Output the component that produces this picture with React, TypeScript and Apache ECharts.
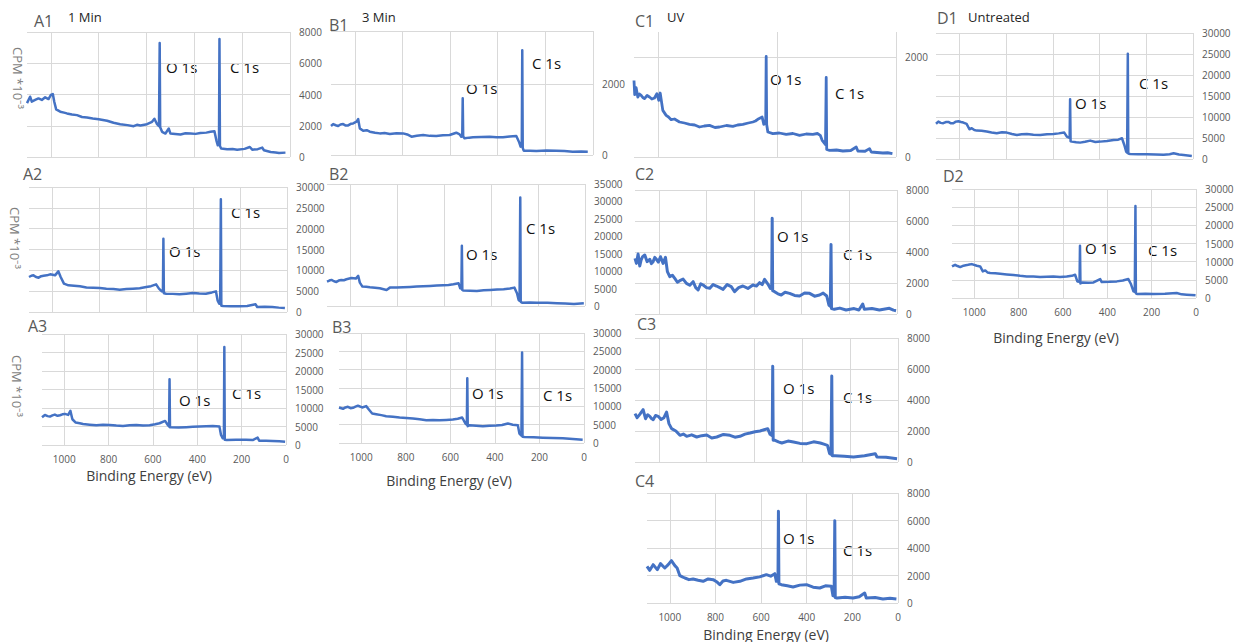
import React, { useEffect, useRef } from "react";
import * as echarts from "echarts";

// XPS survey spectra: [binding energy (eV), counts]
const spectrumA1: [number, number][] = [
  [1100, 3450], [1087, 3860], [1080, 3540], [1066, 3650], [1052, 3750], [1038, 3650], [1024, 3820],
  [1010, 3710], [1000, 3970], [992, 4030], [986, 3540], [978, 3050], [961, 2900], [945, 2840], [933, 2790],
  [912, 2720], [891, 2680], [870, 2560], [849, 2530], [825, 2470], [800, 2420], [765, 2320], [738, 2190],
  [710, 2100], [680, 2040], [654, 1970], [640, 2060], [626, 2020], [598, 2100], [577, 2250], [567, 2450],
  [556, 2100], [548, 1970], [547, 2000], [545, 7290], [543, 1900], [535, 1610], [521, 1500], [507, 1820],
  [500, 1500], [480, 1470], [458, 1440], [437, 1520], [416, 1500], [395, 1480], [375, 1540], [350, 1560],
  [333, 1610], [316, 1650], [308, 1070], [302, 750], [297, 900], [295, 7550], [293, 700], [288, 540],
  [263, 490], [240, 510], [221, 470], [190, 520], [168, 640], [158, 470], [135, 500], [116, 600],
  [109, 430], [81, 320], [60, 290], [46, 260], [19, 280],
];
const spectrumB1: [number, number][] = [
  [1100, 820], [1091, 873], [1080, 840], [1070, 817], [1060, 860], [1049, 873], [1038, 830], [1028, 836],
  [1017, 880], [1007, 892], [993, 939], [986, 1014], [979, 751], [965, 685], [950, 700], [937, 657],
  [915, 630], [895, 610], [875, 620], [853, 592], [825, 615], [797, 610], [780, 580], [762, 516],
  [740, 545], [713, 563], [685, 540], [658, 535], [630, 555], [602, 563], [574, 629], [560, 582],
  [553, 516], [549, 520], [547, 1600], [545, 520], [539, 470], [520, 490], [504, 498], [470, 505],
  [434, 516], [405, 500], [378, 498], [350, 520], [322, 535], [311, 376], [304, 235], [299, 300],
  [297, 2958], [295, 200], [291, 122], [265, 118], [238, 113], [195, 125], [154, 122], [120, 110],
  [85, 94], [50, 100], [22, 94],
];
const spectrumC1: [number, number][] = [
  [1100, 1530], [1097, 1247], [1091, 1387], [1084, 1200], [1077, 1260], [1070, 1233], [1063, 1190],
  [1056, 1167], [1045, 1230], [1035, 1200], [1025, 1160], [1014, 1180], [1004, 1267], [996, 1133],
  [990, 1280], [979, 933], [965, 833], [955, 800], [944, 747], [930, 760], [909, 700], [888, 680],
  [867, 653], [845, 640], [825, 600], [805, 620], [783, 633], [760, 590], [741, 600], [712, 630],
  [685, 613], [665, 640], [643, 653], [620, 680], [601, 700], [590, 720], [576, 767], [562, 800],
  [555, 653], [547, 700], [545, 2010], [543, 650], [538, 500], [517, 467], [490, 480], [461, 453],
  [433, 470], [405, 433], [377, 460], [349, 453], [330, 470], [318, 433], [310, 333], [296, 250],
  [293, 1590], [291, 150], [279, 133], [250, 140], [223, 120], [190, 130], [167, 200], [160, 120],
  [130, 115], [111, 167], [104, 100], [80, 90], [55, 80], [35, 85], [15, 67],
];
const spectrumD1: [number, number][] = [
  [1100, 8400], [1090, 8913], [1080, 8600], [1069, 8515], [1058, 8800], [1047, 8833], [1036, 8500],
  [1026, 8515], [1015, 8900], [1004, 8992], [993, 8800], [983, 8674], [969, 8356], [957, 7083],
  [947, 7321], [936, 6900], [926, 6764], [905, 6700], [883, 6526], [862, 6300], [840, 6128],
  [818, 6350], [797, 6287], [775, 5950], [754, 5730], [733, 5900], [711, 5968], [683, 5800],
  [654, 5730], [625, 5900], [597, 5968], [575, 6100], [551, 6287], [540, 5332], [528, 5000],
  [526, 14250], [524, 4200], [519, 4138], [500, 4000], [483, 3899], [462, 4100], [440, 4377],
  [418, 4050], [397, 4138], [368, 4300], [340, 4536], [320, 4600], [304, 4934], [294, 3342],
  [286, 1751], [282, 1500], [279, 25070], [277, 1300], [269, 1194], [235, 1150], [197, 1114],
  [160, 1100], [126, 1035], [100, 1150], [83, 1353], [60, 1050], [40, 955], [5, 716],
];
const spectrumA2: [number, number][] = [
  [1100, 8400], [1090, 8700], [1081, 8800], [1070, 8400], [1059, 8240], [1048, 8600], [1038, 8720],
  [1024, 8800], [1010, 9040], [989, 8800], [975, 9760], [965, 8400], [951, 6800], [932, 6400],
  [908, 6300], [883, 6160], [855, 5900], [826, 5840], [798, 5750], [770, 5600], [740, 5500],
  [713, 5360], [685, 5500], [657, 5600], [628, 5700], [600, 6000], [580, 6200], [558, 6640],
  [546, 5600], [534, 4960], [529, 4900], [527, 17600], [525, 4500], [515, 4400], [487, 4350],
  [459, 4240], [430, 4400], [402, 4560], [374, 4450], [346, 4400], [320, 4700], [303, 4960],
  [296, 2800], [289, 2000], [285, 2000], [282, 27040], [280, 1500], [272, 1440], [240, 1400],
  [204, 1360], [170, 1450], [134, 1840], [127, 1200], [95, 1250], [63, 1200], [35, 1050], [9, 960],
];
const spectrumB2: [number, number][] = [
  [1100, 7000], [1090, 7300], [1081, 7480], [1070, 7100], [1060, 6904], [1050, 7300], [1039, 7480],
  [1028, 7400], [1017, 7671], [996, 8055], [977, 7863], [967, 8630], [960, 6712], [949, 5562],
  [933, 5500], [917, 5370], [895, 5250], [875, 5082], [846, 4603], [832, 5274], [803, 5300],
  [775, 5370], [746, 5450], [718, 5562], [690, 5650], [661, 5753], [632, 5850], [604, 5945],
  [582, 6050], [561, 6233], [539, 6520], [532, 5082], [527, 5000], [525, 17260], [523, 4600],
  [518, 4411], [490, 4350], [461, 4315], [432, 4500], [404, 4603], [375, 4700], [347, 4795],
  [320, 5000], [301, 5274], [290, 3644], [283, 1726], [279, 1500], [276, 31160], [274, 1200],
  [268, 959], [236, 1000], [204, 959], [160, 900], [119, 767], [85, 700], [47, 575], [5, 767],
];
const spectrumC2: [number, number][] = [
  [1100, 3590], [1094, 3268], [1087, 3870], [1080, 3096], [1074, 3500], [1068, 3698], [1059, 3806],
  [1049, 3376], [1038, 3526], [1031, 3250], [1024, 3376], [1017, 3650], [1010, 3526], [1002, 3350],
  [993, 3698], [982, 3268], [972, 3655], [964, 2731], [954, 2408], [943, 2500], [933, 2300],
  [922, 2050], [912, 2150], [898, 2250], [884, 1978], [870, 1850], [856, 2086], [845, 1700],
  [835, 1548], [824, 1950], [814, 1870], [800, 1700], [786, 1656], [772, 1900], [758, 1806],
  [744, 1700], [730, 1591], [713, 1900], [696, 1763], [682, 1440], [665, 1700], [647, 1806],
  [626, 1650], [605, 1870], [590, 1800], [577, 2021], [566, 1900], [556, 2236], [542, 1935],
  [532, 1656], [526, 1800], [524, 6170], [522, 1500], [514, 1440], [500, 1300], [486, 1226],
  [470, 1400], [451, 1333], [430, 1200], [409, 1161], [388, 1350], [367, 1333], [346, 1150],
  [325, 1226], [310, 1350], [295, 1161], [286, 580], [280, 500], [277, 4490], [275, 350],
  [263, 301], [240, 380], [214, 258], [180, 350], [160, 260], [144, 645], [137, 301], [105, 350],
  [74, 258], [50, 320], [32, 366], [15, 250], [4, 215],
];
const spectrumD2: [number, number][] = [
  [1100, 8700], [1086, 9146], [1075, 8800], [1063, 8506], [1048, 8900], [1033, 9055], [1022, 9200],
  [1011, 9329], [988, 8872], [973, 8689], [961, 7317], [950, 7591], [939, 7000], [928, 6860],
  [905, 6800], [883, 6677], [853, 6500], [823, 6311], [793, 6100], [763, 5945], [733, 5900],
  [703, 5762], [673, 5850], [643, 5945], [613, 5800], [583, 5945], [560, 6100], [545, 6402],
  [535, 4573], [525, 4500], [523, 14360], [521, 4000], [511, 4299], [486, 4200], [462, 4299],
  [432, 5213], [425, 4390], [390, 4450], [357, 4573], [330, 4800], [305, 5213], [294, 3933],
  [282, 1829], [276, 1700], [273, 25330], [271, 1300], [264, 1098], [228, 1150], [192, 1098],
  [140, 1150], [87, 1372], [65, 1000], [42, 915], [2, 730],
];
const spectrumA3: [number, number][] = [
  [1100, 7500], [1087, 8132], [1075, 7800], [1064, 7681], [1053, 8000], [1042, 8223], [1030, 7900],
  [1019, 8042], [1008, 8300], [997, 8403], [982, 8132], [972, 9217], [963, 6958], [948, 6054],
  [930, 5900], [915, 5693], [885, 5500], [855, 5331], [825, 5450], [795, 5422], [765, 5250],
  [735, 5151], [705, 5350], [675, 5422], [645, 5250], [615, 5331], [590, 5600], [570, 5873],
  [545, 6506], [533, 5422], [527, 5000], [525, 17800], [523, 4800], [518, 4789], [484, 4700],
  [450, 4789], [420, 4900], [390, 4970], [360, 5050], [330, 5151], [300, 4970], [293, 2711],
  [285, 1807], [280, 1800], [278, 26480], [276, 1400], [267, 1355], [225, 1400], [181, 1446],
  [150, 1350], [128, 1988], [121, 1175], [90, 1150], [61, 1084], [30, 1000], [4, 904],
];
const spectrumB3: [number, number][] = [
  [1100, 9695], [1082, 9329], [1071, 9700], [1060, 9878], [1048, 9500], [1037, 9603], [1026, 9900],
  [1015, 10152], [996, 9695], [978, 10061], [966, 9146], [951, 8048], [933, 7866], [910, 7600],
  [888, 7317], [858, 7150], [828, 6951], [798, 6800], [768, 6677], [738, 6450], [708, 6219],
  [678, 6300], [649, 6219], [619, 6300], [589, 6402], [567, 6600], [547, 6951], [532, 5305],
  [526, 5000], [524, 17650], [522, 4600], [514, 4848], [484, 4700], [454, 4573], [424, 4700],
  [394, 4756], [368, 4900], [342, 5305], [320, 5000], [297, 4848], [290, 2561], [281, 2000],
  [278, 24690], [276, 1700], [267, 1646], [226, 1550], [185, 1463], [140, 1380], [95, 1280],
  [50, 1100], [6, 915],
];
const spectrumC3: [number, number][] = [
  [1100, 3120], [1091, 2860], [1080, 3075], [1066, 3376], [1056, 2795], [1047, 3050], [1038, 2946],
  [1031, 2800], [1024, 2731], [1014, 3000], [1003, 2946], [991, 2750], [979, 2860], [968, 3225],
  [958, 2473], [947, 2150], [929, 2000], [912, 1720], [898, 1800], [884, 1656], [863, 1750],
  [842, 1613], [821, 1700], [800, 1742], [779, 1550], [758, 1613], [730, 1780], [703, 1720],
  [682, 1600], [661, 1656], [640, 1800], [619, 1871], [598, 1950], [577, 2000], [560, 2080],
  [545, 2150], [535, 1785], [526, 1700], [524, 6170], [522, 1400], [514, 1398], [500, 1300],
  [486, 1226], [460, 1350], [437, 1290], [410, 1200], [381, 1183], [353, 1300], [325, 1226],
  [310, 1150], [295, 1075], [286, 538], [280, 500], [277, 5550], [275, 400], [263, 409],
  [225, 370], [186, 323], [140, 400], [95, 538], [88, 323], [50, 300], [4, 215],
];
const spectrumC4: [number, number][] = [
  [1100, 2670], [1088, 2376], [1073, 2788], [1055, 2424], [1041, 2860], [1022, 2545], [1007, 2788],
  [993, 3079], [978, 2715], [968, 2545], [956, 1988], [945, 1900], [934, 1818], [916, 1700],
  [898, 1745], [876, 1650], [854, 1576], [832, 1750], [810, 1697], [795, 1550], [781, 1333],
  [767, 1600], [752, 1648], [722, 1500], [693, 1576], [664, 1750], [635, 1818], [606, 1900],
  [577, 2061], [558, 1950], [540, 2133], [533, 1576], [526, 1600], [524, 6670], [522, 1400],
  [511, 1333], [485, 1250], [460, 1164], [430, 1300], [401, 1333], [372, 1150], [343, 1091],
  [318, 1250], [292, 1212], [285, 533], [280, 500], [277, 5990], [275, 400], [267, 364],
  [232, 420], [197, 364], [170, 450], [146, 727], [139, 364], [100, 400], [66, 291], [35, 340],
  [7, 291],
];

// Panel letters, treatment captions and peak names
const panelNames = ["A1", "B1", "C1", "D1", "A2", "B2", "C2", "D2", "A3", "B3", "C3", "C4"];
const treatments = ["1 Min", "3 Min", "UV", "Untreated"];
const peakNames = ["O 1s", "C 1s"];
const energyTitle = "Binding Energy (eV)";
const countsTitle = "CPM *10⁻³";

const BLUE = "#4472c4";
const GRID = "#d9d9d9";
const AXIS_TEXT = "#595959";
const FONT = "'Open Sans', 'Noto Sans', sans-serif";

type Panel = {
  name: string;
  data: [number, number][];
  box: [number, number, number, number]; // left, top, right, bottom
  yMax: number;
  yStep: number;
  xStep: number;
  xLabels: boolean;
  lineWidth: number;
  hideTopLine?: boolean;
  onlyEdgeLines?: boolean;
  title: [number, number];
  oLabel: [number, number];
  cLabel: [number, number];
};

const panels: Panel[] = [
  { name: panelNames[0], data: spectrumA1, box: [27, 32, 290, 157], yMax: 8000, yStep: 2000, xStep: 200, xLabels: false, lineWidth: 2.5, title: [34, 21], oLabel: [166, 67], cLabel: [230, 67] },
  { name: panelNames[1], data: spectrumB1, box: [331, 31, 593, 155], yMax: 3500, yStep: 2000, xStep: 200, xLabels: false, lineWidth: 2.5, title: [329, 25], oLabel: [466, 88], cLabel: [532, 63] },
  { name: panelNames[2], data: spectrumC1, box: [634, 32, 896, 157], yMax: 2500, yStep: 2000, xStep: 500, xLabels: false, lineWidth: 2.8, hideTopLine: true, title: [635, 21], oLabel: [770, 79], cLabel: [835, 93] },
  { name: panelNames[3], data: spectrumD1, box: [936, 33, 1193, 159], yMax: 30000, yStep: 5000, xStep: 200, xLabels: false, lineWidth: 2.5, title: [937, 18], oLabel: [1075, 103], cLabel: [1139, 83] },
  { name: panelNames[4], data: spectrumA2, box: [29, 187, 287, 312], yMax: 30000, yStep: 5000, xStep: 200, xLabels: false, lineWidth: 2.5, title: [23, 174], oLabel: [169, 251], cLabel: [231, 212] },
  { name: panelNames[5], data: spectrumB2, box: [327, 184, 585, 306], yMax: 35000, yStep: 5000, xStep: 200, xLabels: false, lineWidth: 2.5, onlyEdgeLines: true, title: [329, 174], oLabel: [466, 254], cLabel: [526, 228] },
  { name: panelNames[6], data: spectrumC2, box: [635, 190, 897, 314], yMax: 8000, yStep: 2000, xStep: 200, xLabels: false, lineWidth: 3, title: [635, 174], oLabel: [777, 236], cLabel: [843, 254] },
  { name: panelNames[7], data: spectrumD2, box: [952, 189, 1196, 298], yMax: 30000, yStep: 5000, xStep: 200, xLabels: true, lineWidth: 2.5, title: [943, 176], oLabel: [1085, 248], cLabel: [1148, 250] },
  { name: panelNames[8], data: spectrumA3, box: [42, 334, 286, 445], yMax: 30000, yStep: 5000, xStep: 200, xLabels: true, lineWidth: 2.5, title: [28, 326], oLabel: [179, 400], cLabel: [232, 393] },
  { name: panelNames[9], data: spectrumB3, box: [339, 333, 584, 443], yMax: 30000, yStep: 5000, xStep: 200, xLabels: true, lineWidth: 2.5, title: [332, 327], oLabel: [472, 393], cLabel: [543, 395] },
  { name: panelNames[10], data: spectrumC3, box: [635, 338, 898, 462], yMax: 8000, yStep: 2000, xStep: 200, xLabels: false, lineWidth: 3, title: [637, 324], oLabel: [783, 388], cLabel: [843, 397] },
  { name: panelNames[11], data: spectrumC4, box: [647, 493, 898, 603], yMax: 8000, yStep: 2000, xStep: 200, xLabels: true, lineWidth: 3, title: [635, 481], oLabel: [783, 538], cLabel: [843, 550] },
];

// Treatment captions beside the top-row panel letters
const captionPos: [number, number][] = [[68, 17], [362, 17], [667, 17], [968, 17]];
// Energy axis titles under the bottom panels
const energyTitlePos: [number, number][] = [[149, 475], [449, 480], [766, 634], [1056, 337]];
// Count axis titles left of column A
const countsTitlePos: [number, number][] = [[18, 78], [15, 238], [17, 386]];

function text(x: number, y: number, s: string, size: number, color: string, extra: any = {}) {
  return {
    type: "text",
    x,
    y,
    silent: true,
    style: {
      text: s,
      fontSize: size,
      fontFamily: FONT,
      fill: color,
      verticalAlign: "middle",
      align: "left",
      ...extra,
    },
  };
}

function buildOption() {
  const grid: any[] = [];
  const xAxis: any[] = [];
  const yAxis: any[] = [];
  const series: any[] = [];
  const graphic: any[] = [];

  panels.forEach((p, i) => {
    const [l, t, r, b] = p.box;
    grid.push({ left: l, top: t, width: r - l, height: b - t, containLabel: false, show: false });

    xAxis.push({
      type: "value",
      gridIndex: i,
      min: 0,
      max: 1100,
      interval: p.xStep,
      inverse: true,
      axisLine: { show: false },
      axisTick: { show: false },
      splitLine: { show: true, showMaxLine: false, lineStyle: { color: GRID, width: 1 } },
      axisLabel: {
        show: p.xLabels,
        margin: 9,
        fontSize: 10,
        color: AXIS_TEXT,
        fontFamily: FONT,
        formatter: (v: number) => (v % p.xStep === 0 ? String(v) : ""),
      },
    });

    const nTicks = Math.floor(p.yMax / p.yStep) + (p.yMax % p.yStep === 0 ? 1 : 2);
    let lineColor: any = GRID;
    if (p.onlyEdgeLines) {
      lineColor = Array.from({ length: nTicks }, (_, k) => (k === 0 || k === nTicks - 1 ? GRID : "rgba(0,0,0,0)"));
    }

    yAxis.push({
      type: "value",
      gridIndex: i,
      position: "right",
      min: 0,
      max: p.yMax,
      interval: p.yStep,
      axisLine: { show: false },
      axisTick: { show: false },
      splitLine: {
        show: true,
        showMaxLine: !p.hideTopLine,
        lineStyle: { color: lineColor, width: 1 },
      },
      axisLabel: {
        margin: 9,
        fontSize: 10,
        color: AXIS_TEXT,
        fontFamily: FONT,
        formatter: (v: number) => (v % p.yStep === 0 ? String(v) : ""),
      },
    });

    series.push({
      type: "line",
      xAxisIndex: i,
      yAxisIndex: i,
      data: p.data,
      showSymbol: false,
      symbol: "none",
      lineStyle: { color: BLUE, width: p.lineWidth, join: "round" },
      silent: true,
      clip: true,
    });

    graphic.push(text(p.title[0], p.title[1], p.name, 16, AXIS_TEXT));
    graphic.push(text(p.oLabel[0], p.oLabel[1], peakNames[0], 15, "#111111"));
    graphic.push(text(p.cLabel[0], p.cLabel[1], peakNames[1], 15, "#111111"));
  });

  treatments.forEach((s, i) => {
    graphic.push(text(captionPos[i][0], captionPos[i][1], s, 13, "#262626"));
  });
  energyTitlePos.forEach(([x, y]) => {
    graphic.push(text(x, y, energyTitle, 14, "#404040", { align: "center" }));
  });
  countsTitlePos.forEach(([x, y]) => {
    graphic.push({
      type: "text",
      x,
      y,
      rotation: -Math.PI / 2,
      silent: true,
      style: {
        text: countsTitle,
        fontSize: 13,
        fontFamily: FONT,
        fill: "#7f7f7f",
        align: "center",
        verticalAlign: "middle",
      },
    });
  });

  return {
    animation: false,
    backgroundColor: "#ffffff",
    grid,
    xAxis,
    yAxis,
    series,
    graphic,
  };
}

export default function App() {
  const ref = useRef<HTMLDivElement>(null);

  useEffect(() => {
    if (!ref.current) return;
    const chart = echarts.init(ref.current, undefined, { renderer: "svg" });
    chart.setOption(buildOption() as any);
    return () => chart.dispose();
  }, []);

  return (
    <div
      ref={ref}
      style={{ position: "fixed", left: 0, top: 0, width: 1243, height: 642, background: "#ffffff" }}
    />
  );
}
